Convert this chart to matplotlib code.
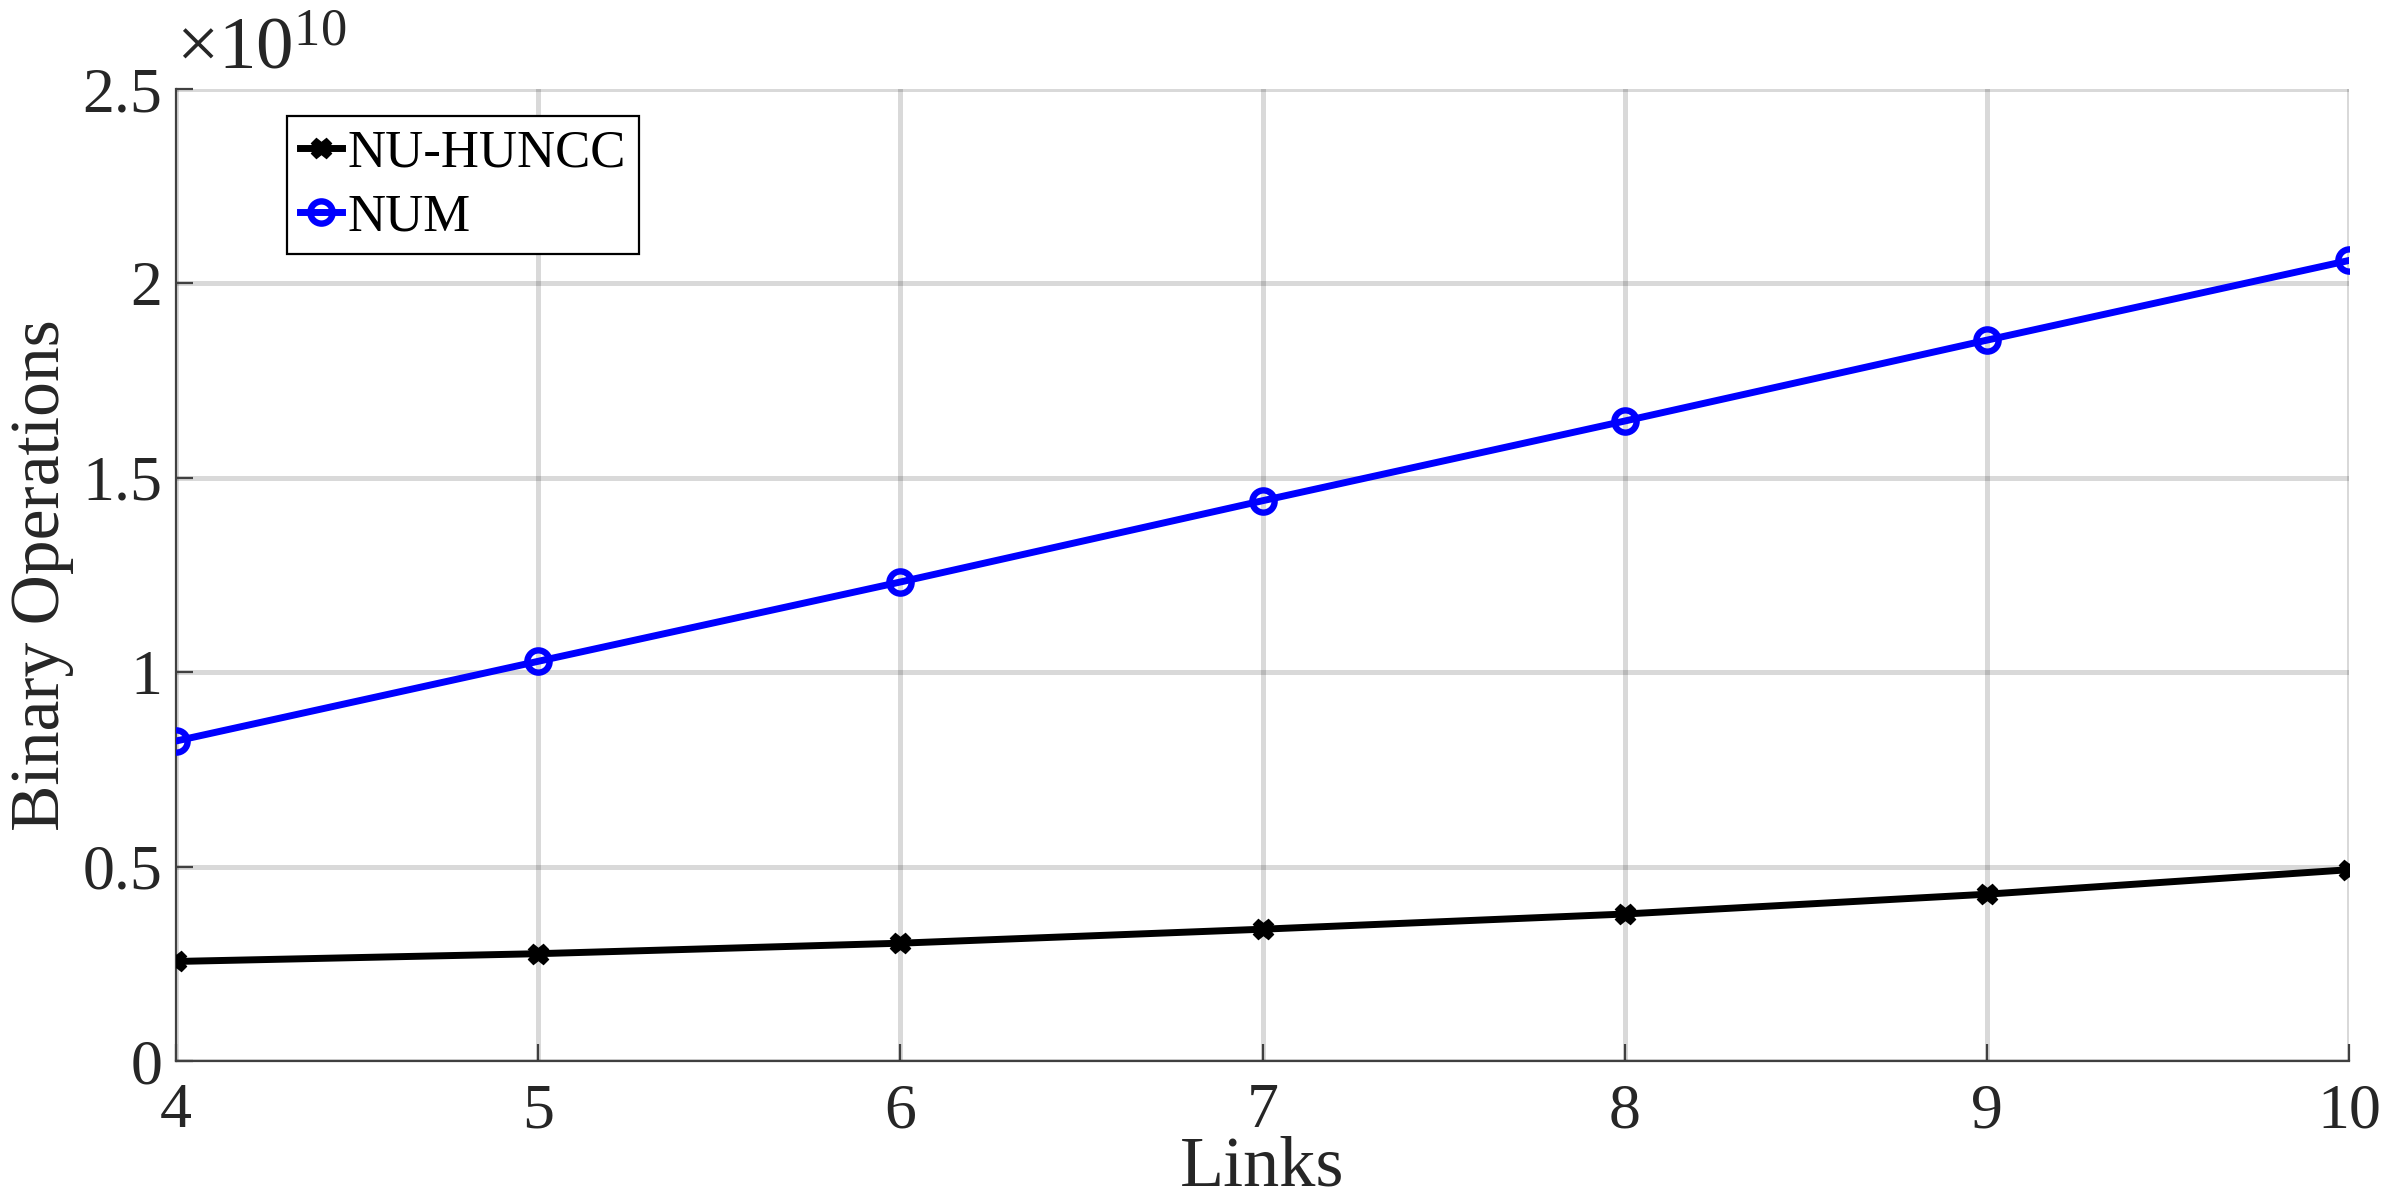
import numpy as np
import matplotlib
matplotlib.use('Agg')
import matplotlib.pyplot as plt
from matplotlib.ticker import FuncFormatter

# data
links = [4, 5, 6, 7, 8, 9, 10]
nu_huncc = [0.256e10, 0.276e10, 0.303e10, 0.339e10, 0.378e10, 0.429e10, 0.492e10]
num = [0.823e10, 1.028e10, 1.232e10, 1.441e10, 1.646e10, 1.854e10, 2.059e10]
y_ticks = [0, 0.5e10, 1.0e10, 1.5e10, 2.0e10, 2.5e10]

plt.rcParams['font.family'] = ['Liberation Serif', 'DejaVu Serif']
plt.rcParams['mathtext.fontset'] = 'custom'
plt.rcParams['mathtext.rm'] = 'Liberation Serif'
plt.rcParams['mathtext.it'] = 'Liberation Serif:italic'

fig = plt.figure(figsize=(12, 5.98), dpi=200)
ax = fig.add_axes([176 / 2400, 1 - 1061 / 1196, (2349 - 176) / 2400, (1061 - 89) / 1196])

ax.plot(links, nu_huncc, color='black', lw=2.5, marker='X', ms=6.5,
        mec='black', mfc='black', label='NU-HUNCC', zorder=3)
ax.plot(links, num, color='#0000ff', lw=2.5, marker='o', ms=8,
        mfc='none', mec='#0000ff', mew=2.3, label='NUM', zorder=3)

ax.set_xlim(4, 10)
ax.set_ylim(0, 2.5e10)
ax.set_xticks(links)
ax.set_yticks(y_ticks)
ax.yaxis.set_major_formatter(FuncFormatter(lambda v, p: '%g' % (v / 1e10)))

ax.grid(True, color='black', alpha=0.15, lw=1.8, zorder=0)
ax.set_axisbelow(True)
for s in ['top', 'right']:
    ax.spines[s].set_visible(False)
for s in ['left', 'bottom']:
    ax.spines[s].set_color('#404040')
    ax.spines[s].set_linewidth(0.8)
ax.tick_params(direction='in', length=6, width=0.8, color='#404040',
               labelsize=23, labelcolor='#262626')
ax.tick_params(axis='y', pad=5)
ax.tick_params(axis='x', pad=8)

ax.set_xlabel('Links', fontsize=26, color='#262626', labelpad=-2)
ax.set_ylabel('Binary Operations', fontsize=25, color='#262626')
ax.yaxis.set_label_coords(-0.047, 0.5)

ax.text(0.0, 1.005, r'$\times10^{10}$', transform=ax.transAxes,
        fontsize=27, color='#262626', ha='left', va='bottom')

leg = ax.legend(loc='upper left', bbox_to_anchor=(0.051, 0.972), fontsize=19,
                frameon=True, fancybox=False, handlelength=0.8,
                handletextpad=0.1, borderpad=0.25, labelspacing=0.3,
                borderaxespad=0, framealpha=1)
leg.get_frame().set_edgecolor('black')
leg.get_frame().set_linewidth(0.8)

fig.savefig('out.png', dpi=200, facecolor='white')
